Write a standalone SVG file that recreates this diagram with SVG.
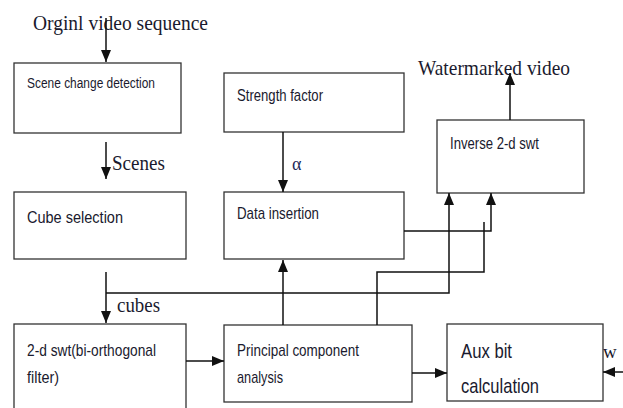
<svg xmlns="http://www.w3.org/2000/svg" width="623" height="408" viewBox="0 0 623 408">
<style>
.box{fill:#fff;stroke:#333;stroke-width:1.3}
.lbl{font-family:"Liberation Sans",Arial,sans-serif;font-size:17px;fill:#1a1a2e}
.big{font-size:21px}
.ser{font-family:"Liberation Serif","Times New Roman",serif;font-size:22px;fill:#1a1a2e}
.ln{fill:none;stroke:#111;stroke-width:1.5}
</style>
<defs>
<marker id="ah" markerUnits="userSpaceOnUse" markerWidth="12" markerHeight="14" refX="12" refY="5" orient="auto">
<path d="M0,0 L12,5 L0,10 Z" fill="#111"/>
</marker>
</defs>
<rect width="623" height="408" fill="#fff"/>
<text class="ser" x="33" y="30" textLength="175" lengthAdjust="spacingAndGlyphs">Orginl video sequence</text>
<text class="ser" x="418" y="75" textLength="152" lengthAdjust="spacingAndGlyphs">Watermarked video</text>
<text class="ser" x="112" y="170" textLength="53" lengthAdjust="spacingAndGlyphs">Scenes</text>
<text class="ser" x="117" y="312" textLength="43" lengthAdjust="spacingAndGlyphs">cubes</text>
<text class="ser" x="292" y="170" style="fill:#1f2a5a;font-size:18px">α</text>
<text class="ser" x="603" y="358" style="font-size:19px">w</text>

<g id="scene">
<rect class="box" x="14" y="63" width="167" height="70"/>
<text class="lbl" x="27" y="88" style="font-size:14px" textLength="128" lengthAdjust="spacingAndGlyphs">Scene change  detection</text>
</g>
<g id="strength">
<rect class="box" x="224" y="73" width="180" height="59"/>
<text class="lbl" x="237" y="101" textLength="86" lengthAdjust="spacingAndGlyphs">Strength factor</text>
</g>
<g id="inverse">
<rect class="box" x="437" y="120" width="147" height="73"/>
<text class="lbl" x="450" y="149" textLength="89" lengthAdjust="spacingAndGlyphs">Inverse 2-d swt</text>
</g>
<g id="cube">
<rect class="box" x="14" y="192" width="172" height="67"/>
<text class="lbl" x="27" y="223" textLength="96" lengthAdjust="spacingAndGlyphs">Cube selection</text>
</g>
<g id="datains">
<rect class="box" x="224" y="192" width="180" height="67"/>
<text class="lbl" x="237" y="219" textLength="82" lengthAdjust="spacingAndGlyphs">Data insertion</text>
</g>
<g id="swt">
<rect class="box" x="14" y="324" width="172" height="100"/>
<text class="lbl" x="27" y="356" textLength="129" lengthAdjust="spacingAndGlyphs">2-d swt(bi-orthogonal</text>
<text class="lbl" x="27" y="383" textLength="32" lengthAdjust="spacingAndGlyphs">filter)</text>
</g>
<g id="pca">
<rect class="box" x="224" y="325" width="188" height="77"/>
<text class="lbl" x="237" y="356" textLength="122" lengthAdjust="spacingAndGlyphs">Principal component</text>
<text class="lbl" x="237" y="383" textLength="46" lengthAdjust="spacingAndGlyphs">analysis</text>
</g>
<g id="aux">
<rect class="box" x="447" y="324" width="156" height="77"/>
<text class="lbl big" x="461" y="358" textLength="51" lengthAdjust="spacingAndGlyphs">Aux bit</text>
<text class="lbl big" x="461" y="393" textLength="78" lengthAdjust="spacingAndGlyphs">calculation</text>
</g>

<g id="connectors">
<path class="ln" d="M106,18 V62" marker-end="url(#ah)"/>
<path class="ln" d="M106,142 V179" marker-end="url(#ah)"/>
<path class="ln" d="M283,132 V192" marker-end="url(#ah)"/>
<path class="ln" d="M106,272 V323" marker-end="url(#ah)"/>
<path class="ln" d="M106,293 H449 V193" marker-end="url(#ah)"/>
<path class="ln" d="M283,325 V260" marker-end="url(#ah)"/>
<path class="ln" d="M404,231 H491 V193" marker-end="url(#ah)"/>
<path class="ln" d="M377,325 V272 H484 V222"/>
<path class="ln" d="M510,120 V73" marker-end="url(#ah)"/>
<path class="ln" d="M186,361 H224" marker-end="url(#ah)"/>
<path class="ln" d="M412,373 H447" marker-end="url(#ah)"/>
<path class="ln" d="M623,372 H603" marker-end="url(#ah)"/>
</g>
</svg>
